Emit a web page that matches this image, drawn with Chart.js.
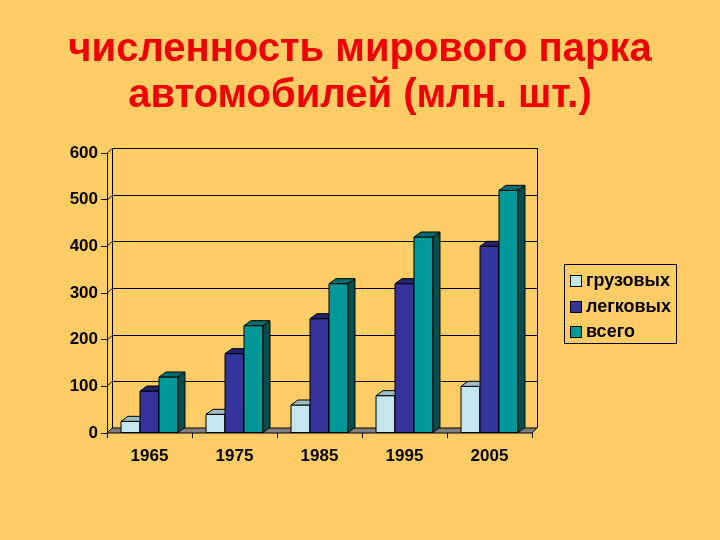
<!DOCTYPE html>
<html>
<head>
<meta charset="utf-8">
<script src="https://cdn.jsdelivr.net/npm/chart.js@4.4.0/dist/chart.umd.min.js"></script>
<style>
  html, body { margin: 0; padding: 0; background: #FFCC66; }
  #wrap { position: relative; width: 720px; height: 540px; }
  #legend {
    position: absolute; left: 564px; top: 264px; width: 113px; height: 80px;
    border: 1px solid #000; box-sizing: border-box;
    font-family: "Liberation Sans", Arial, sans-serif; font-size: 18px; font-weight: bold; color: #000;
    padding-top: 3px;
  }
  #legend div { height: 25.5px; line-height: 25.5px; white-space: nowrap; }
  #legend span {
    display: inline-block; width: 10px; height: 10px; border: 1px solid #000;
    margin: 0 4px 0 5px; vertical-align: -1px;
  }
</style>
</head>
<body>
<div id="wrap">
  <canvas id="chart" width="720" height="540"></canvas>
  <div id="legend"></div>
</div>
<script>
const categories = ['1965', '1975', '1985', '1995', '2005']
const seriesNames = ['грузовых', 'легковых', 'всего']
const trucks = [25, 40, 60, 80, 100]
const cars = [90, 170, 245, 320, 400]
const total = [120, 230, 320, 420, 520]
const yTicks = [0, 100, 200, 300, 400, 500, 600]

const frontColors = ['#C2E6EC', '#333399', '#009999']
const topColors = ['#9DBFC4', '#23236E', '#006E6E']
const sideColors = ['#8AAAB0', '#1C1C5C', '#004F4F']
const WALL = { dx: 5, dy: 5 }
const BAR = { dx: 7, dy: 5 }
const font = '"Liberation Sans", Arial, sans-serif'

function poly(ctx, pts, fill) {
  ctx.beginPath()
  ctx.moveTo(pts[0][0], pts[0][1])
  pts.slice(1).forEach(p => ctx.lineTo(p[0], p[1]))
  ctx.closePath()
  ctx.fillStyle = fill
  ctx.fill()
  ctx.stroke()
}

const depth3d = {
  id: 'depth3d',
  beforeDatasetsDraw(chart) {
    const { ctx, chartArea: a, scales: { y } } = chart
    ctx.save()
    ctx.strokeStyle = '#000'
    ctx.lineWidth = 1
    // back wall grid lines
    yTicks.forEach(v => {
      const py = Math.round(y.getPixelForValue(v)) + 0.5
      ctx.beginPath()
      ctx.moveTo(a.left, py)
      ctx.lineTo(a.left + WALL.dx, py - WALL.dy)
      ctx.lineTo(a.right + WALL.dx, py - WALL.dy)
      ctx.stroke()
    })
    const l = Math.round(a.left + WALL.dx) + 0.5
    const r = Math.round(a.right + WALL.dx) + 0.5
    ctx.beginPath()
    ctx.moveTo(l, a.top - WALL.dy)
    ctx.lineTo(l, a.bottom - WALL.dy)
    ctx.moveTo(r, a.top - WALL.dy)
    ctx.lineTo(r, a.bottom - WALL.dy)
    ctx.stroke()
    // floor
    poly(ctx, [
      [a.left, a.bottom], [a.right, a.bottom],
      [a.right + WALL.dx, a.bottom - WALL.dy], [a.left + WALL.dx, a.bottom - WALL.dy]
    ], '#808080')
    ctx.restore()
  },
  afterDatasetsDraw(chart) {
    const { ctx } = chart
    const metas = chart.data.datasets.map((d, i) => chart.getDatasetMeta(i))
    ctx.save()
    ctx.strokeStyle = '#000'
    ctx.lineWidth = 1
    categories.forEach((c, i) => {
      metas.forEach((m, j) => {
        const { x, y, base, width } = m.data[i].getProps(['x', 'y', 'base', 'width'], true)
        const l = x - width / 2, r = x + width / 2
        poly(ctx, [[l, y], [r, y], [r, base], [l, base]], frontColors[j])
        poly(ctx, [[r, y], [r + BAR.dx, y - BAR.dy], [r + BAR.dx, base - BAR.dy], [r, base]], sideColors[j])
        poly(ctx, [[l, y], [r, y], [r + BAR.dx, y - BAR.dy], [l + BAR.dx, y - BAR.dy]], topColors[j])
      })
    })
    ctx.restore()
  }
}

new Chart(document.getElementById('chart'), {
  type: 'bar',
  data: {
    labels: categories,
    datasets: [trucks, cars, total].map((data, i) => ({
      label: seriesNames[i],
      data: data,
      backgroundColor: frontColors[i],
      borderColor: '#000',
      borderWidth: 0,
      categoryPercentage: 0.67,
      barPercentage: 1.0
    }))
  },
  options: {
    responsive: false,
    animation: false,
    layout: { padding: 0 },
    plugins: {
      legend: { display: false },
      tooltip: { enabled: false },
      title: {
        display: true,
        text: ['численность мирового парка', 'автомобилей (млн. шт.)'],
        color: '#EE0000',
        font: { family: font, size: 40, weight: 'bold', lineHeight: 1.15 },
        padding: { top: 27, bottom: 34 }
      }
    },
    scales: {
      x: {
        offset: true,
        border: { display: false },
        grid: { drawOnChartArea: false, drawTicks: true, tickLength: 5, color: '#000', offset: true },
        ticks: { color: '#000', padding: 8, font: { family: font, size: 17, weight: 'bold' } },
        afterFit: s => { s.height = 107 }
      },
      y: {
        min: 0,
        max: 600,
        border: { display: true, color: '#000' },
        grid: { drawOnChartArea: false, drawTicks: true, tickLength: 6, color: '#000' },
        ticks: { stepSize: 100, color: '#000', padding: 3, font: { family: font, size: 17, weight: 'bold' } },
        afterFit: s => { s.width = 107 }
      },
      // empty axis that keeps room for the legend on the right
      side: {
        position: 'right',
        border: { display: false },
        grid: { display: false },
        ticks: { display: false },
        afterFit: s => { s.width = 188 }
      }
    }
  },
  plugins: [depth3d]
})

const legend = document.getElementById('legend')
seriesNames.forEach((name, i) => {
  const row = document.createElement('div')
  row.innerHTML = '<span style="background:' + frontColors[i] + '"></span>' + name
  legend.appendChild(row)
})
</script>
</body>
</html>
